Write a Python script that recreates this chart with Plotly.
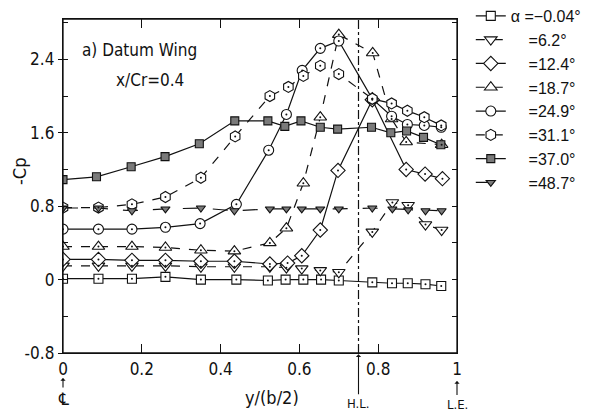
import plotly.graph_objects as go

# ---------------- data ----------------
span_a00 = [0, 0.09, 0.175, 0.26, 0.35, 0.44, 0.52, 0.565, 0.61, 0.655, 0.70, 0.785, 0.835, 0.875, 0.92, 0.96]
cp_a00 = [0.01, 0.01, 0.01, 0.03, 0.0, 0.0, -0.01, 0.0, 0.0, 0.0, -0.01, -0.03, -0.04, -0.04, -0.05, -0.07]

span_a06 = [0, 0.09, 0.175, 0.26, 0.35, 0.435, 0.525, 0.567, 0.606, 0.653, 0.70, 0.785, 0.836, 0.876, 0.92, 0.961]
cp_a06 = [0.15, 0.15, 0.15, 0.15, 0.14, 0.14, 0.14, 0.13, 0.12, 0.10, 0.08, 0.52, 0.84, 0.81, 0.60, 0.54]

span_a12 = [0, 0.09, 0.175, 0.26, 0.35, 0.435, 0.525, 0.57, 0.606, 0.653, 0.698, 0.785, 0.871, 0.919, 0.963]
cp_a12 = [0.22, 0.22, 0.21, 0.21, 0.20, 0.20, 0.17, 0.18, 0.26, 0.54, 1.19, 1.96, 1.20, 1.15, 1.10]

span_a18 = [0, 0.09, 0.175, 0.26, 0.35, 0.435, 0.525, 0.567, 0.61, 0.653, 0.70, 0.786, 0.834, 0.871, 0.961]
cp_a18 = [0.36, 0.36, 0.36, 0.35, 0.32, 0.31, 0.40, 0.56, 1.05, 1.77, 2.67, 2.47, 1.75, 1.50, 1.47]

span_a24 = [0, 0.09, 0.175, 0.26, 0.348, 0.44, 0.522, 0.567, 0.607, 0.653, 0.70, 0.785, 0.834, 0.874, 0.917, 0.96]
cp_a24 = [0.55, 0.55, 0.55, 0.57, 0.61, 0.82, 1.41, 1.80, 2.28, 2.52, 2.60, 1.97, 1.78, 1.69, 1.68, 1.66]

span_a31 = [0, 0.09, 0.175, 0.26, 0.35, 0.437, 0.525, 0.572, 0.61, 0.653, 0.70, 0.785, 0.834, 0.874, 0.917, 0.96]
cp_a31 = [0.785, 0.785, 0.82, 0.90, 1.11, 1.56, 2.00, 2.10, 2.22, 2.33, 2.24, 1.97, 1.92, 1.84, 1.77, 1.68]

span_a37 = [0, 0.085, 0.173, 0.259, 0.346, 0.436, 0.52, 0.563, 0.604, 0.653, 0.697, 0.783, 0.832, 0.872, 0.915, 0.959]
cp_a37 = [1.09, 1.12, 1.23, 1.34, 1.48, 1.73, 1.73, 1.67, 1.73, 1.66, 1.64, 1.66, 1.60, 1.62, 1.55, 1.47]

span_a48 = [0, 0.09, 0.175, 0.26, 0.35, 0.435, 0.525, 0.567, 0.606, 0.653, 0.70, 0.785, 0.836, 0.876, 0.92, 0.961]
cp_a48 = [0.78, 0.78, 0.75, 0.77, 0.78, 0.75, 0.77, 0.77, 0.77, 0.77, 0.77, 0.78, 0.77, 0.76, 0.75, 0.75]

legend_labels = ["α =−0.04°", "=6.2°", "=12.4°", "=18.7°", "=24.9°", "=31.1°", "=37.0°", "=48.7°"]
hinge_line = 0.75
x_ticks = [0, 0.2, 0.4, 0.6, 0.8, 1]
x_ticklabels = ["0", "0.2", "0.4", "0.6", "0.8", "1"]
y_ticks = [-0.8, 0, 0.8, 1.6, 2.4]
y_ticklabels = ["-0.8", "0", "0.8", "1.6", "2.4"]

# ---------------- styling ----------------
TECH = "Liberation Sans Narrow, DejaVu Sans Condensed, Roboto Condensed, Roboto, sans-serif"
LEG = "Liberation Sans, Arial, sans-serif"
BLACK = "#111"
GREY = "#7a7a7a"

series = [
    (span_a00, cp_a00, legend_labels[0], "square", "white", 9, "solid", True),
    (span_a06, cp_a06, legend_labels[1], "triangle-down", "white", 11, "dash", True),
    (span_a12, cp_a12, legend_labels[2], "diamond", "white", 11, "solid", True),
    (span_a18, cp_a18, legend_labels[3], "triangle-up", "white", 11, "dash", True),
    (span_a24, cp_a24, legend_labels[4], "circle", "white", 10, "solid", True),
    (span_a31, cp_a31, legend_labels[5], "hexagon", "white", 11, "dash", True),
    (span_a37, cp_a37, legend_labels[6], "square", GREY, 8, "solid", False),
    (span_a48, cp_a48, legend_labels[7], "triangle-down", GREY, 8, "longdash", False),
]

fig = go.Figure()
for i, (xs, ys, name, sym, fill, size, dash, dot) in enumerate(series):
    label = name if i == 0 else "\u00a0\u00a0\u00a0\u00a0" + name
    fig.add_trace(go.Scatter(
        x=xs, y=ys, name=label, mode="lines+markers",
        line=dict(color=BLACK, width=1.2, dash=dash),
        marker=dict(symbol=sym, size=size, color=fill, line=dict(color=BLACK, width=1.1)),
    ))
for i, (xs, ys, name, sym, fill, size, dash, dot) in enumerate(series):
    if dot:
        fig.add_trace(go.Scatter(
            x=xs, y=ys, mode="markers", showlegend=False, hoverinfo="skip",
            marker=dict(symbol="circle", size=2, color=BLACK),
        ))

# dummy trace to create the right-hand axis
fig.add_trace(go.Scatter(x=[None], y=[None], yaxis="y2", showlegend=False, hoverinfo="skip"))

fig.add_vline(x=hinge_line, line=dict(color=BLACK, width=1.2, dash="dashdot"))
# plot frame
fig.add_shape(type="rect", xref="paper", yref="paper", x0=0, y0=0, x1=1, y1=1,
              line=dict(color=BLACK, width=1.3), fillcolor="rgba(0,0,0,0)", layer="above")

fig.update_layout(
    width=610, height=417,
    margin=dict(l=63, r=153, t=19, b=64, autoexpand=False),
    paper_bgcolor="white", plot_bgcolor="white",
    showlegend=True,
    legend=dict(
        x=1.035, y=1.06, xanchor="left", yanchor="top",
        font=dict(family=LEG, size=16, color=BLACK),
        bgcolor="rgba(0,0,0,0)", tracegroupgap=0, itemwidth=30,
        maxheight=600,
    ),
    xaxis=dict(
        range=[0, 1], tickmode="array", tickvals=x_ticks, ticktext=x_ticklabels,
        ticks="inside", ticklen=9, tickwidth=1.2, tickcolor=BLACK,
        showline=True, linecolor=BLACK, linewidth=1.3, mirror="ticks",
        showgrid=False, zeroline=False, automargin=False,
        tickfont=dict(family=TECH, size=17, color=BLACK),
    ),
    yaxis=dict(
        range=[-0.8, 2.84], tickmode="array", tickvals=y_ticks, ticktext=y_ticklabels,
        ticks="outside", ticklen=4, tickwidth=1.2, tickcolor=BLACK,
        minor=dict(dtick=0.4, tick0=0, ticks="inside", ticklen=5, tickwidth=1.2, tickcolor=BLACK),
        showline=True, linecolor=BLACK, linewidth=1.3,
        showgrid=False, zeroline=False, automargin=False,
        tickfont=dict(family=TECH, size=17, color=BLACK),
    ),
    yaxis2=dict(
        range=[-0.8, 2.84], overlaying="y", side="right", anchor="x",
        dtick=0.4, tick0=0, ticks="inside", ticklen=5, tickwidth=1.2, tickcolor=BLACK,
        showticklabels=False, showline=True, linecolor=BLACK, linewidth=1.3,
        showgrid=False, zeroline=False, automargin=False,
    ),
)

ann = [
    dict(text="a) Datum Wing", x=0.043, y=0.907, xanchor="left", yanchor="middle",
         font=dict(family=TECH, size=17, color=BLACK)),
    dict(text="x/Cr=0.4", x=0.221, y=0.817, xanchor="center", yanchor="middle",
         font=dict(family=TECH, size=17, color=BLACK)),
    dict(text="-Cp", x=-0.109, y=0.542, textangle=-90, xanchor="center", yanchor="middle",
         font=dict(family=TECH, size=18, color=BLACK)),
    dict(text="y/(b/2)", x=0.53, y=-0.132, xanchor="center", yanchor="middle",
         font=dict(family=TECH, size=18, color=BLACK)),
]
for a in ann:
    a.update(xref="paper", yref="paper", showarrow=False)
    fig.add_annotation(**a)

arrows = [
    (x_ticks[0], -0.075, 21, "\u2104", 17),
    (hinge_line, -0.004, 49, "H.L.", 13),
    (x_ticks[-1], -0.084, 23, "L.E.", 13),
]
for xv, yv, ay, txt, fs in arrows:
    fig.add_annotation(
        x=xv, y=yv, xref="x", yref="paper", text=txt, showarrow=True,
        ax=0, ay=ay, arrowhead=1, arrowsize=0.8, arrowwidth=1.1, arrowcolor=BLACK,
        font=dict(family=TECH, size=fs, color=BLACK),
    )

fig.write_html(
    "out.html",
    config={"displayModeBar": False},
    post_script="document.body.style.margin='0';document.body.style.overflow='hidden';",
)
